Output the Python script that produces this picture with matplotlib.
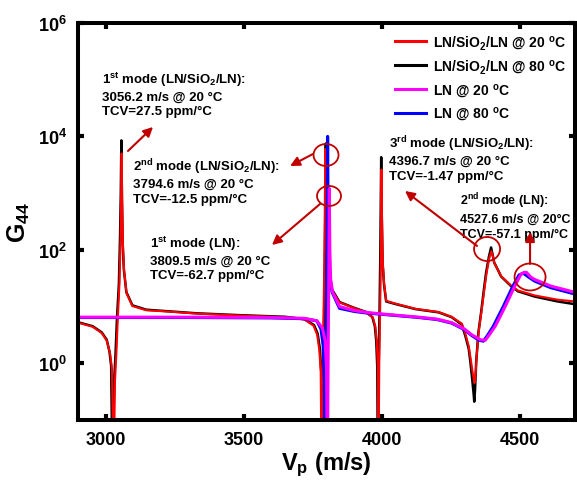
import numpy as np
import matplotlib
matplotlib.use('Agg')
import matplotlib.pyplot as plt
from matplotlib.patches import Ellipse
from matplotlib.lines import Line2D

plt.rcParams['font.family'] = ['Liberation Sans', 'DejaVu Sans']
plt.rcParams['font.weight'] = 'bold'
plt.rcParams['axes.labelweight'] = 'bold'
plt.rcParams['mathtext.fontset'] = 'custom'
plt.rcParams['mathtext.rm'] = 'Liberation Sans:bold'
plt.rcParams['mathtext.it'] = 'Liberation Sans:bold'
plt.rcParams['mathtext.bf'] = 'Liberation Sans:bold'
plt.rcParams['mathtext.sf'] = 'Liberation Sans:bold'
plt.rcParams['mathtext.default'] = 'rm'

# LN/SiO2/LN @ 80 C (black)
vp_tri80 = [2900, 2953, 2986, 3004, 3014, 3020, 3025, 3031, 3036, 3041, 3048, 3052,
            3055, 3057, 3059, 3062, 3066, 3075, 3097, 3147, 3220, 3330, 3500, 3650,
            3720, 3755, 3768, 3776, 3781, 3784, 3788, 3791, 3794, 3796, 3797.5, 3799,
            3802, 3806, 3815, 3847, 3900, 3944, 3966, 3975, 3980, 3984, 3986, 3989,
            3992, 3995, 3998, 4000, 4003, 4008, 4016, 4052, 4123, 4206, 4253, 4290,
            4303, 4315, 4321, 4328, 4333, 4335, 4338, 4342, 4350, 4360, 4370, 4378,
            4388, 4396, 4402, 4407, 4420, 4432, 4468, 4493, 4554, 4637, 4700]
g_tri80 = [5.3, 4.5, 3.5, 2.6, 1.6, 0.9, 0.01, 0.5, 1.5, 6, 25, 150,
           1000, 8500, 800, 120, 45, 18, 10.5, 8.8, 8.3, 7.6, 7.0, 6.6,
           6.0, 4.7, 3.3, 1.8, 0.7, 0.01, 1.0, 6, 60, 800, 7500, 700,
           120, 45, 22, 12, 9.5, 8, 6.5, 4.5, 2.5, 0.8, 0.01, 1,
           8, 100, 4300, 400, 60, 25, 12.3, 11, 9, 7.9, 6.5, 4.8,
           3.0, 1.8, 1.05, 0.5, 0.28, 0.21, 0.35, 1.05, 3.5, 8, 20, 40,
           75, 110, 80, 60, 45, 34, 23, 18.6, 15, 12.3, 11]

# LN/SiO2/LN @ 20 C (red)
vp_tri20 = [2900, 2953, 2986, 3004, 3016, 3023, 3029, 3034, 3039, 3044, 3050, 3054,
            3056, 3058, 3060, 3063, 3067, 3076, 3097, 3147, 3220, 3330, 3500, 3650,
            3720, 3753, 3766, 3774, 3779, 3782, 3786, 3789, 3792, 3794, 3795.5, 3797,
            3800, 3805, 3815, 3847, 3900, 3944, 3968, 3977, 3982, 3986, 3988, 3991,
            3994, 3997, 3999, 4001, 4004, 4009, 4016, 4052, 4123, 4206, 4253, 4290,
            4303, 4315, 4322, 4329, 4334, 4336, 4339, 4343, 4351, 4361, 4371, 4379,
            4389, 4397, 4403, 4408, 4421, 4433, 4468, 4493, 4554, 4637, 4700]
g_tri20 = [5.2, 4.4, 3.4, 2.5, 1.5, 0.8, 0.01, 0.5, 1.5, 6, 25, 150,
           900, 5000, 700, 110, 42, 17, 10.2, 8.6, 8.2, 7.5, 6.9, 6.5,
           5.9, 4.6, 3.2, 1.7, 0.7, 0.01, 1.0, 6, 60, 700, 6000, 600,
           110, 42, 21, 11.8, 9.4, 7.9, 6.4, 4.4, 2.4, 0.8, 0.01, 1,
           8, 100, 2600, 350, 55, 24, 12.6, 11.2, 9.1, 8.0, 6.6, 5.0,
           3.3, 2.0, 1.2, 0.7, 0.5, 0.45, 0.55, 1.2, 3.6, 8, 19, 37,
           70, 95, 75, 58, 44, 34, 23.5, 19.2, 15.7, 13.2, 12.3]

# LN @ 20 C (magenta)
vp_ln20 = [2900, 3300, 3600, 3720, 3765, 3785, 3795, 3800, 3803, 3806, 3808, 3810,
           3812, 3815, 3822, 3847, 3900, 3944, 4000, 4134, 4200, 4253, 4300, 4325,
           4357, 4375, 4390, 4411, 4447, 4482, 4504, 4515, 4524, 4540, 4554, 4612, 4700]
g_ln20 = [6.5, 6.5, 6.4, 6.2, 5.6, 4.2, 2.5, 0.8, 0.01, 1.5, 30, 1200,
          100, 30, 18, 10, 8.5, 7.9, 7.4, 6.5, 6.0, 5.2, 4.0, 3.2,
          2.6, 2.55, 3.2, 4.5, 10, 23, 37, 40, 40, 33, 30, 23, 17.8]

# LN @ 80 C (blue)
vp_ln80 = [2900, 3300, 3600, 3720, 3765, 3780, 3788, 3792, 3794, 3798, 3801, 3804,
           3806, 3810, 3820, 3847, 3900, 3944, 4000, 4134, 4200, 4253, 4300, 4325,
           4352, 4368, 4383, 4404, 4440, 4475, 4497, 4508, 4515, 4532, 4554, 4612, 4700]
g_ln80 = [6.4, 6.4, 6.3, 6.1, 5.6, 4.0, 2.0, 0.5, 0.01, 1.5, 30, 10000,
          200, 40, 18, 9.3, 8.2, 7.7, 7.3, 6.4, 5.9, 5.1, 3.9, 3.1,
          2.55, 2.45, 3.1, 4.5, 10, 23, 36, 38, 38, 33, 28, 21.5, 16.6]

labels = ['LN/SiO$_2$/LN @ 20 $^{o}$C', 'LN/SiO$_2$/LN @ 80 $^{o}$C',
          'LN @ 20 $^{o}$C', 'LN @ 80 $^{o}$C']
colors = ['#ff0000', '#000000', '#ff00ff', '#0000ff']

ann_red = '#c00000'

fig = plt.figure(figsize=(5.77, 4.85), dpi=100)
ax = fig.add_axes([0.1352, 0.132, 0.8614, 0.8186])

ax.plot(vp_tri80, g_tri80, color=colors[1], lw=1.8)
ax.plot(vp_tri20, g_tri20, color=colors[0], lw=1.5)
ax.plot(vp_ln80, g_ln80, color=colors[3], lw=2.2)
ax.plot(vp_ln20, g_ln20, color=colors[2], lw=2.2)

ax.set_yscale('log')
ax.set_xlim(2900, 4700)
ax.set_ylim(0.1, 1e6)
ax.set_xticks([3000, 3500, 4000, 4500])
ax.set_xticklabels(['3000', '3500', '4000', '4500'])
ax.set_yticks([1, 1e2, 1e4, 1e6])
ax.set_yticklabels(['10$^{0}$', '10$^{2}$', '10$^{4}$', '10$^{6}$'])
ax.minorticks_off()
ax.tick_params(direction='in', length=4, width=3, top=True, right=True,
               labelsize=13, pad=8)
for s in ax.spines.values():
    s.set_linewidth(2.9)

ax.set_xlabel('V$_{p}$ (m/s)', fontsize=17, labelpad=1)
ax.set_ylabel('G$_{44}$', fontsize=18, labelpad=4)

handles = [Line2D([], [], color=c, lw=2.2) for c in colors]
ax.legend(handles, labels, loc='upper left', bbox_to_anchor=(0.638, 0.975),
          frameon=False, fontsize=10, handlelength=2.2, handletextpad=0.5,
          labelspacing=0.45, borderpad=0, borderaxespad=0)

# annotations
texts = [
    (0.048, 0.882, 9.5, '1$^{st}$ mode (LN/SiO$_2$/LN):\n3056.2 m/s @ 20 °C\nTCV=27.5 ppm/°C'),
    (0.111, 0.665, 9.5, '2$^{nd}$ mode (LN/SiO$_2$/LN):\n3794.6 m/s @ 20 °C\nTCV=-12.5 ppm/°C'),
    (0.145, 0.469, 9.5, '1$^{st}$ mode (LN):\n3809.5 m/s @ 20 °C\nTCV=-62.7 ppm/°C'),
    (0.626, 0.723, 9.5, '3$^{rd}$ mode (LN/SiO$_2$/LN):\n4396.7 m/s @ 20 °C\nTCV=-1.47 ppm/°C'),
    (0.768, 0.577, 9.0, '2$^{nd}$ mode (LN):\n4527.6 m/s @ 20°C\nTCV=-57.1 ppm/°C'),
]
for x, y, fs, t in texts:
    ax.text(x, y, t, transform=ax.transAxes, ha='left', va='top', fontsize=fs,
            linespacing=1.3)

arrows = [
    ((0.1006, 0.6776), (0.1509, 0.738)),
    ((0.4728, 0.670), (0.4266, 0.6398)),
    ((0.4869, 0.544), (0.3903, 0.4408)),
    ((0.8028, 0.4383), (0.6579, 0.5768)),
    ((0.9095, 0.393), (0.9095, 0.4736)),
]
for tail, head in arrows:
    ax.annotate('', xy=head, xytext=tail, xycoords='axes fraction',
                textcoords='axes fraction',
                arrowprops=dict(arrowstyle='-|>', color=ann_red, lw=1.5,
                                mutation_scale=14, shrinkA=0, shrinkB=0))

circles = [
    (0.499, 0.6675, 0.0503, 0.0554),
    (0.505, 0.5642, 0.0483, 0.0504),
    (0.823, 0.4307, 0.0523, 0.0605),
    (0.9095, 0.3602, 0.0624, 0.068),
]
for cx, cy, w, h in circles:
    ax.add_patch(Ellipse((cx, cy), w, h, transform=ax.transAxes, fill=False,
                         edgecolor=ann_red, lw=1.3, zorder=5))

fig.savefig('out.png', dpi=100)
